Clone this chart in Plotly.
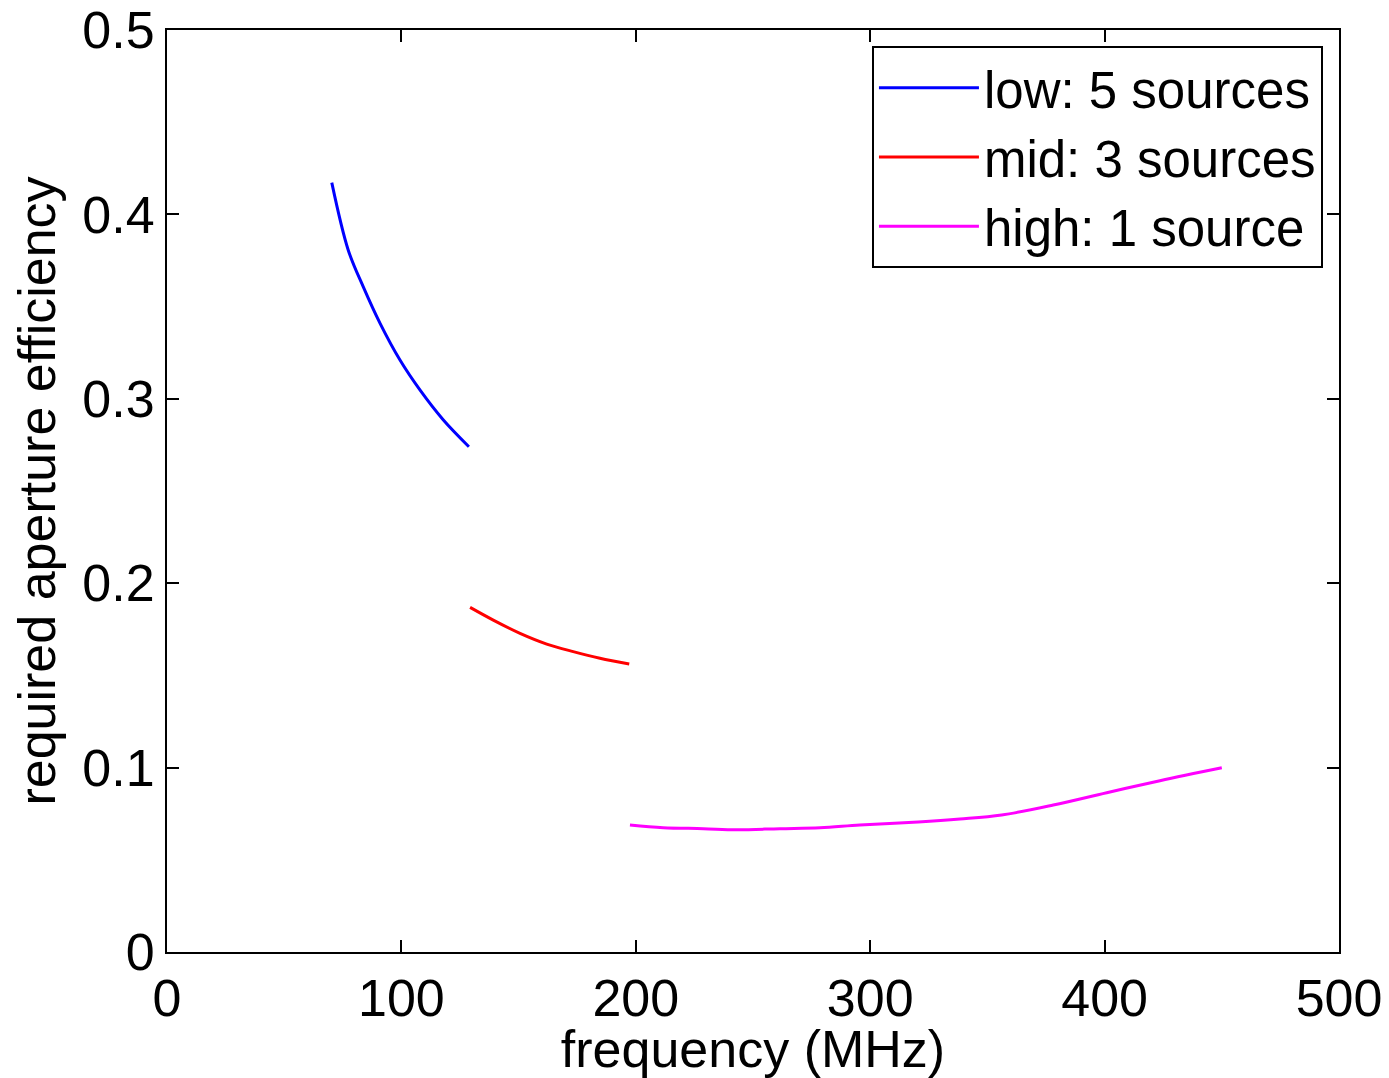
import plotly.graph_objects as go

# frequency (MHz) and required aperture efficiency for each band
low_freq = [70.3, 77.3, 83.7, 90.9, 99.4, 107.9, 117.9, 128.8]
low_eff = [0.4172, 0.3807, 0.3608, 0.3409, 0.3210, 0.3048, 0.2885, 0.2740]

mid_freq = [129.3, 139.2, 150.6, 162.0, 173.3, 184.7, 197.2]
mid_eff = [0.1869, 0.1800, 0.1728, 0.1670, 0.1629, 0.1593, 0.1562]

high_freq = [197.5, 211.7, 228.8, 243.0, 261.5, 278.6, 295.6, 320.5,
             338.3, 356.1, 378.1, 400.9, 423.6, 450.0]
high_eff = [0.0689, 0.0674, 0.0669, 0.0663, 0.0669, 0.0674, 0.0689, 0.0705,
            0.0721, 0.0743, 0.0797, 0.0864, 0.0929, 0.0999]

x_ticks = [0, 100, 200, 300, 400, 500]
y_ticks = [0, 0.1, 0.2, 0.3, 0.4, 0.5]
y_labels = ["0", "0.1", "0.2", "0.3", "0.4", "0.5"]

fnt = "Liberation Sans, Arial, sans-serif"

fig = go.Figure()
fig.add_trace(go.Scatter(x=low_freq, y=low_eff, mode="lines", name="low: 5 sources",
                         line=dict(color="#0000ff", width=3, shape="spline")))
fig.add_trace(go.Scatter(x=mid_freq, y=mid_eff, mode="lines", name="mid: 3 sources",
                         line=dict(color="#ff0000", width=3, shape="spline")))
fig.add_trace(go.Scatter(x=high_freq, y=high_eff, mode="lines", name="high: 1 source",
                         line=dict(color="#ff00ff", width=3, shape="spline")))

axis_style = dict(showgrid=False, zeroline=False, showline=True, linecolor="black",
                  linewidth=2, mirror="ticks", ticks="inside", ticklen=12,
                  tickwidth=2, tickcolor="black", automargin=False,
                  ticklabeloverflow="allow",
                  tickfont=dict(family=fnt, size=52, color="black"))

fig.update_xaxes(range=[0, 500], tickvals=x_ticks,
                 title=dict(text="frequency (MHz)", font=dict(family=fnt, size=52, color="black"),
                            standoff=0),
                 **axis_style)
fig.update_yaxes(range=[0, 0.5], tickvals=y_ticks, ticktext=y_labels,
                 title=dict(text="required aperture efficiency",
                            font=dict(family=fnt, size=52, color="black"), standoff=10),
                 **axis_style)

fig.update_layout(
    width=1381, height=1070,
    margin=dict(l=159, r=50, t=22, b=126),
    paper_bgcolor="white", plot_bgcolor="white",
    font=dict(family=fnt, color="black"),
    legend=dict(x=0.9863, y=0.9826, xanchor="right", yanchor="top",
                bgcolor="white", bordercolor="black", borderwidth=2,
                font=dict(family=fnt, size=51, color="black"),
                itemwidth=100, tracegroupgap=0),
)

fig.write_html("out.html")
